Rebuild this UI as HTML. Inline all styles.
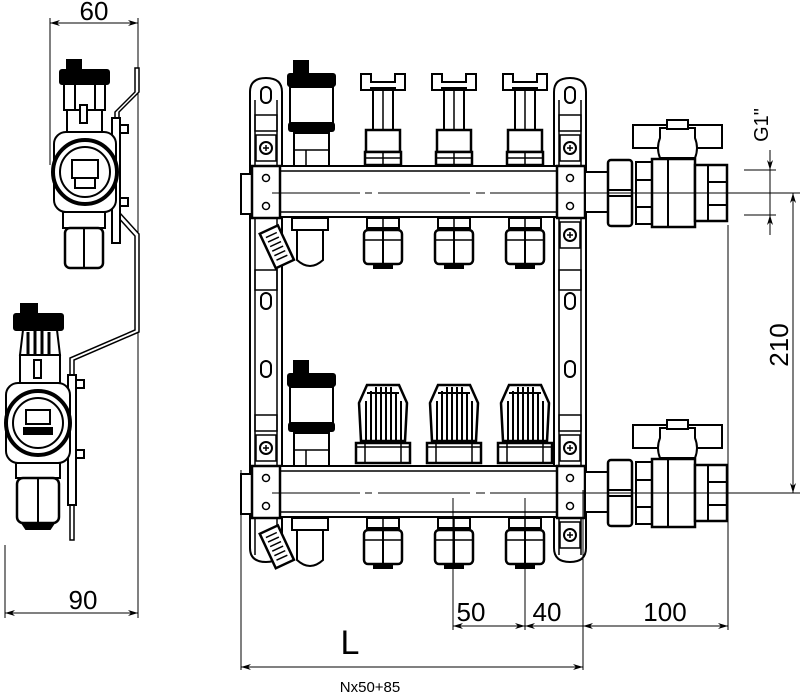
<!DOCTYPE html>
<html><head><meta charset="utf-8"><style>html,body{margin:0;padding:0;background:#fff}svg{display:block}</style></head><body>
<svg width="800" height="694" viewBox="0 0 800 694" xmlns="http://www.w3.org/2000/svg" font-family="Liberation Sans, sans-serif">
<defs>
<marker id="a" viewBox="0 0 10 6" refX="10" refY="3" markerWidth="10" markerHeight="6" orient="auto-start-reverse" markerUnits="userSpaceOnUse"><path d="M0,0 L10,3 L0,6 L3,3 Z" fill="#000"/></marker>
<g id="bar">
  <rect x="279" y="166" width="278" height="51" fill="#fff" stroke="#000" stroke-width="2"/>
  <line x1="279" y1="171" x2="557" y2="171" stroke="#000" stroke-width="1.5"/>
  <line x1="279" y1="212" x2="557" y2="212" stroke="#000" stroke-width="1.5"/>
  <rect x="241" y="174" width="11" height="40" fill="#fff" stroke="#000" stroke-width="2"/>
  <rect x="252" y="166" width="28" height="52" fill="#fff" stroke="#000" stroke-width="2.5"/>
  <rect x="557" y="166" width="28" height="52" fill="#fff" stroke="#000" stroke-width="2.5"/>
  <rect x="585" y="172" width="24" height="40" fill="#fff" stroke="#000" stroke-width="2"/>
  <circle cx="266" cy="178" r="3.5" fill="none" stroke="#000" stroke-width="1.5"/>
  <circle cx="266" cy="206" r="3.5" fill="none" stroke="#000" stroke-width="1.5"/>
  <circle cx="570" cy="178" r="3.5" fill="none" stroke="#000" stroke-width="1.5"/>
  <circle cx="570" cy="206" r="3.5" fill="none" stroke="#000" stroke-width="1.5"/>
  <rect x="256" y="135" width="20" height="26" fill="#fff" stroke="#000" stroke-width="1.5"/>
  <circle cx="266" cy="148" r="6" fill="none" stroke="#000" stroke-width="2"/>
  <path d="M263,148h6M266,145v6" stroke="#000" stroke-width="1.5"/>
  <rect x="560" y="135" width="20" height="26" fill="#fff" stroke="#000" stroke-width="1.5"/>
  <circle cx="570" cy="148" r="6" fill="none" stroke="#000" stroke-width="2"/>
  <path d="M567,148h6M570,145v6" stroke="#000" stroke-width="1.5"/>
  <rect x="560" y="222" width="20" height="26" fill="#fff" stroke="#000" stroke-width="1.5"/>
  <circle cx="570" cy="235" r="6" fill="none" stroke="#000" stroke-width="2"/>
  <path d="M567,235h6M570,232v6" stroke="#000" stroke-width="1.5"/>
  <rect x="293" y="60" width="16" height="14" fill="#000"/>
  <rect x="287" y="73" width="49" height="14" rx="3" fill="#000"/>
  <rect x="290" y="87" width="43" height="37" fill="#fff" stroke="#000" stroke-width="2"/>
  <rect x="288" y="122" width="47" height="10" rx="3" fill="#000"/>
  <rect x="294" y="133" width="35" height="33" fill="#fff" stroke="#000" stroke-width="2"/>
  <line x1="306" y1="150" x2="306" y2="166" stroke="#000" stroke-width="1.5"/>
  <line x1="294" y1="150" x2="329" y2="150" stroke="#000" stroke-width="1.5"/>
  <rect x="292" y="218" width="36" height="12" fill="#fff" stroke="#000" stroke-width="2"/>
  <path d="M297,230 h26 v30 q-13,12 -26,0 z" fill="#fff" stroke="#000" stroke-width="2"/>
  <g transform="rotate(-25 276 245)"><rect x="266" y="228" width="20" height="38" fill="#fff" stroke="#000" stroke-width="2.5"/>
  <path d="M270,234h12M270,239h12M270,244h12M270,249h12M270,254h12M270,259h12" stroke="#000" stroke-width="1.5"/></g>
</g>
<g id="lowfit">
  <rect x="-16" y="0" width="32" height="10" fill="#fff" stroke="#000" stroke-width="2"/>
  <line x1="0" y1="0" x2="0" y2="10" stroke="#000" stroke-width="1.5"/>
  <rect x="-19" y="12" width="38" height="34" rx="4" fill="#fff" stroke="#000" stroke-width="2.5"/>
  <line x1="0" y1="12" x2="0" y2="46" stroke="#000" stroke-width="2"/>
  <line x1="-19" y1="22" x2="19" y2="22" stroke="#000" stroke-width="1.5"/>
  <rect x="-10" y="46" width="20" height="5" fill="#000"/>
</g>
<g id="topv">
  <path d="M-22,-62h10v8h24v-8h10v16h-10v-2h-24v2h-10z" fill="#fff" stroke="#000" stroke-width="2"/>
  <rect x="-10" y="-46" width="20" height="40" fill="#fff" stroke="#000" stroke-width="2"/>
  <line x1="0" y1="-46" x2="0" y2="-6" stroke="#000" stroke-width="1.5"/>
  <rect x="-17" y="-6" width="34" height="22" fill="#fff" stroke="#000" stroke-width="2.5"/>
  <rect x="-18" y="16" width="36" height="13" fill="#fff" stroke="#000" stroke-width="2.5"/>
  <path d="M0,16v13M-18,22h36" stroke="#000" stroke-width="1.5"/>
</g>
<g id="knob">
  <path d="M-22,-2 L-24,-40 L-16,-58 L16,-58 L24,-40 L22,-2 Z" fill="#fff" stroke="#000" stroke-width="2.5"/>
  <path d="M-17,-2v-40M-12,-2v-50M-7,-2v-54M-2,-2v-54M3,-2v-54M8,-2v-54M13,-2v-48M18,-2v-40M-16,-50h32" stroke="#000" stroke-width="2"/>
  <rect x="-27" y="0" width="54" height="20" fill="#fff" stroke="#000" stroke-width="2.5"/>
  <path d="M-18,0v20M18,0v20M-27,4h54" stroke="#000" stroke-width="1.5"/>
</g>
<g id="valve">
  <rect x="608" y="160" width="24" height="66" rx="3" fill="#fff" stroke="#000" stroke-width="2.5"/>
  <path d="M608,190h24M608,196h24" stroke="#000" stroke-width="2"/>
  <rect x="636" y="162" width="16" height="62" fill="#fff" stroke="#000" stroke-width="2"/>
  <path d="M636,180h16M636,207h16" stroke="#000" stroke-width="2"/>
  <rect x="652" y="159" width="43" height="68" fill="#fff" stroke="#000" stroke-width="2.5"/>
  <line x1="668" y1="159" x2="668" y2="227" stroke="#000" stroke-width="2"/>
  <rect x="695" y="165" width="32" height="56" fill="#fff" stroke="#000" stroke-width="2.5"/>
  <path d="M708,165v56M708,182h19M708,205h19" stroke="#000" stroke-width="2"/>
  <rect x="633" y="125" width="89" height="23" fill="#fff" stroke="#000" stroke-width="2"/>
  <path d="M660,158 q-4,-10 0,-20 v-10 h35 v10 q4,10 0,20 z" fill="#fff" stroke="#000" stroke-width="2"/>
  <rect x="667" y="120" width="21" height="9" fill="#fff" stroke="#000" stroke-width="2"/>
</g>
</defs>

<g fill="#fff" stroke="#000" stroke-width="2">
<path d="M250,92 q0,-14 16,-14 q16,0 16,14 V548 q0,14 -16,14 q-16,0 -16,-14 Z"/>
<path d="M554,92 q0,-14 16,-14 q16,0 16,14 V548 q0,14 -16,14 q-16,0 -16,-14 Z"/>
</g>
<g fill="none" stroke="#000" stroke-width="1.5">
<path d="M255,115h22v16h-22zM559,115h22v16h-22zM255,270h22v20h-22zM559,270h22v20h-22zM255,415h22v16h-22zM559,415h22v16h-22z"/>
<line x1="255" y1="100" x2="255" y2="555"/><line x1="277" y1="100" x2="277" y2="555"/>
<line x1="559" y1="100" x2="559" y2="555"/><line x1="581" y1="100" x2="581" y2="555"/>
</g>
<g fill="#fff" stroke="#000" stroke-width="2">
<rect x="261" y="87" width="10" height="16" rx="5"/><rect x="565" y="87" width="10" height="16" rx="5"/>
<rect x="261" y="293" width="10" height="16" rx="5"/><rect x="565" y="293" width="10" height="16" rx="5"/>
<rect x="261" y="361" width="10" height="16" rx="5"/><rect x="565" y="361" width="10" height="16" rx="5"/>
</g>

<use href="#bar"/>
<use href="#bar" y="300"/>
<use href="#topv" x="383" y="136"/><use href="#topv" x="454" y="136"/><use href="#topv" x="525" y="136"/>
<use href="#knob" x="383" y="443"/><use href="#knob" x="454" y="443"/><use href="#knob" x="525" y="443"/>
<use href="#lowfit" x="383" y="218"/><use href="#lowfit" x="454" y="218"/><use href="#lowfit" x="525" y="218"/>
<use href="#lowfit" x="383" y="518"/><use href="#lowfit" x="454" y="518"/><use href="#lowfit" x="525" y="518"/>
<use href="#valve"/>
<use href="#valve" y="300"/>

<g stroke="#000" stroke-width="1">
<line x1="272" y1="193" x2="360" y2="193"/><line x1="365" y1="193" x2="372" y2="193"/><line x1="378" y1="193" x2="470" y2="193"/><line x1="476" y1="193" x2="485" y2="193"/><line x1="490" y1="193" x2="800" y2="193"/>
<line x1="272" y1="493" x2="360" y2="493"/><line x1="365" y1="493" x2="372" y2="493"/><line x1="378" y1="493" x2="470" y2="493"/><line x1="476" y1="493" x2="485" y2="493"/><line x1="490" y1="493" x2="800" y2="493"/>
</g>

<g stroke="#000" stroke-width="1" fill="none">
<line x1="241" y1="470" x2="241" y2="670"/>
<line x1="583" y1="490" x2="583" y2="670"/>
<line x1="453" y1="498" x2="453" y2="630"/>
<line x1="525" y1="498" x2="525" y2="630"/>
<line x1="728" y1="225" x2="728" y2="630"/>
<line x1="241" y1="667" x2="583" y2="667" marker-start="url(#a)" marker-end="url(#a)"/>
<line x1="453" y1="626" x2="525" y2="626" marker-start="url(#a)" marker-end="url(#a)"/>
<line x1="525" y1="626" x2="583" y2="626" marker-start="url(#a)"/>
<line x1="583" y1="626" x2="728" y2="626" marker-start="url(#a)" marker-end="url(#a)"/>
<line x1="793" y1="193" x2="793" y2="493" marker-start="url(#a)" marker-end="url(#a)"/>
<line x1="744" y1="170" x2="776" y2="170"/><line x1="744" y1="215" x2="776" y2="215"/>
<line x1="770" y1="150" x2="770" y2="170" marker-end="url(#a)"/>
<line x1="770" y1="215" x2="770" y2="235" marker-start="url(#a)"/>
<line x1="770" y1="170" x2="770" y2="215"/>
<line x1="50" y1="18" x2="50" y2="165"/>
<line x1="138" y1="18" x2="138" y2="618"/>
<line x1="5" y1="545" x2="5" y2="618"/>
<line x1="50" y1="23" x2="138" y2="23" marker-start="url(#a)" marker-end="url(#a)"/>
<line x1="5" y1="613" x2="138" y2="613" marker-start="url(#a)" marker-end="url(#a)"/>
</g>
<g fill="#000">
<text x="471" y="621" font-size="26" text-anchor="middle">50</text>
<text x="547" y="621" font-size="26" text-anchor="middle">40</text>
<text x="665" y="621" font-size="26" text-anchor="middle">100</text>
<text x="350" y="654" font-size="34" text-anchor="middle">L</text>
<text x="370" y="692" font-size="15" text-anchor="middle">Nx50+85</text>
<text x="94" y="20" font-size="26" text-anchor="middle">60</text>
<text x="83" y="609" font-size="26" text-anchor="middle">90</text>
<text transform="translate(788,345) rotate(-90)" font-size="26" text-anchor="middle">210</text>
<text transform="translate(768,125) rotate(-90)" font-size="20" text-anchor="middle">G1"</text>
</g>

<path d="M135,68h4v24l-20,20v100l20,22v98l-65,28v180h-4v-182l65,-28v-94l-20,-22v-102l20,-20z" fill="#fff" stroke="#000" stroke-width="1.5"/>
<g fill="#fff" stroke="#000" stroke-width="2">
<rect x="112" y="118" width="8" height="125"/><rect x="120" y="125" width="8" height="8"/><rect x="120" y="198" width="8" height="8"/>
<rect x="68" y="375" width="8" height="130"/><rect x="76" y="380" width="8" height="8"/><rect x="76" y="450" width="8" height="8"/>
</g>
<g stroke="#000" fill="#fff" stroke-width="2">
<rect x="67" y="60" width="14" height="12" fill="#000"/>
<rect x="60" y="70" width="49" height="14" rx="2" fill="#000"/>
<rect x="64" y="84" width="41" height="26"/>
<path d="M75,84v26M95,84v26M70,84h30"/>
<rect x="67" y="110" width="35" height="22"/>
<rect x="80" y="105" width="7" height="18"/>
<rect x="54" y="132" width="62" height="80" rx="12"/>
<circle cx="85" cy="172" r="32" stroke-width="4"/>
<circle cx="85" cy="172" r="25"/>
<rect x="72" y="160" width="26" height="18"/>
<rect x="75" y="178" width="20" height="10"/>
<rect x="63" y="212" width="42" height="16"/>
<rect x="65" y="228" width="38" height="40" rx="5" stroke-width="2.5"/>
<path d="M84,228v40"/>
</g>
<g stroke="#000" fill="#fff" stroke-width="2">
<rect x="21" y="304" width="16" height="12" fill="#000"/>
<rect x="14" y="314" width="49" height="16" rx="2" fill="#000"/>
<path d="M20,355 l3,-25 h34 l3,25 z"/>
<path d="M28,332v23M35,330v25M42,330v25M49,332v23" stroke-width="3"/>
<rect x="20" y="355" width="40" height="28"/>
<rect x="34" y="360" width="7" height="18"/>
<rect x="6" y="383" width="64" height="80" rx="12"/>
<circle cx="38" cy="423" r="32" stroke-width="4"/>
<circle cx="38" cy="423" r="25"/>
<rect x="26" y="410" width="24" height="14"/>
<rect x="24" y="428" width="28" height="6" fill="#000"/>
<rect x="16" y="463" width="44" height="15"/>
<rect x="17" y="478" width="42" height="45" rx="6" stroke-width="2.5"/>
<path d="M38,478v45"/>
<path d="M22,523h32l-4,6h-24z" fill="#000"/>
</g>
</svg>
</body></html>
